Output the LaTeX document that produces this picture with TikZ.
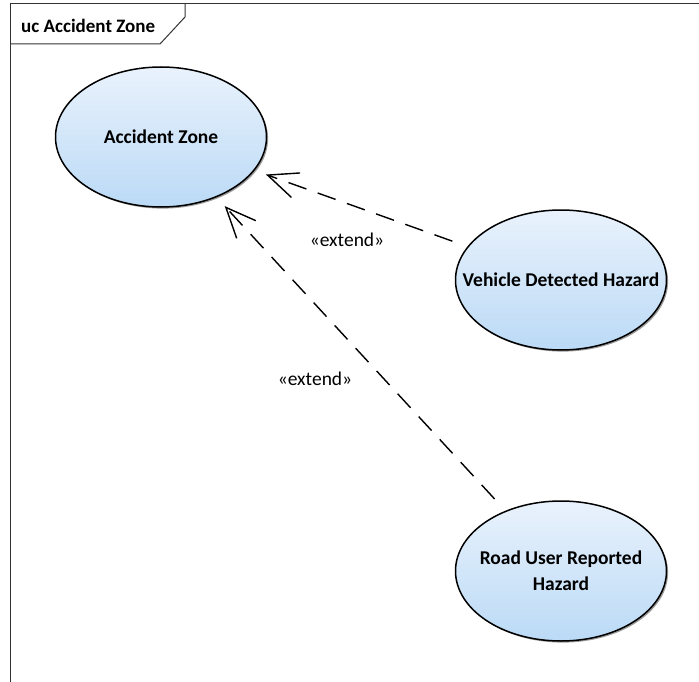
\documentclass[tikz,border=0pt]{standalone}
\usepackage{fontspec}
\setmainfont{Carlito}
\usetikzlibrary{arrows.meta,shadows,shapes.geometric}

\definecolor{ucTop}{HTML}{E9F2FC}
\definecolor{ucBottom}{HTML}{BBDAF6}
\definecolor{ucShadow}{HTML}{9A9A9A}

\tikzset{
  usecase/.style={ellipse, draw=black, line width=1.5pt,
    top color=ucTop, bottom color=ucBottom,
    minimum width=211pt, minimum height=140pt,
    inner xsep=-32pt, inner ysep=0pt,
    align=center, font=\fontsize{19.5}{26}\selectfont\bfseries,
    drop shadow={shadow xshift=1.6pt, shadow yshift=-1.6pt,
      fill=ucShadow, opacity=1}},
  extendline/.style={line width=1.4pt, dash pattern=on 19pt off 12pt,
    -{Straight Barb[length=30pt, width=26pt, line width=1.4pt]},
    shorten >=12pt, shorten <=16pt},
  stereo/.style={font=\fontsize{19.5}{22}\selectfont, inner sep=0pt},
  framepen/.style={line width=1pt, draw=black!80},
}

\begin{document}
\begin{tikzpicture}[x=1pt, y=-1pt]
  \useasboundingbox (0,0) rectangle (699,682);

  % diagram frame with its name tab
  \draw[framepen] (10,682) -- (10,4) -- (699,4);
  \draw[framepen] (10,44) -- (160,44) -- (185,17) -- (185,4);
  \node[font=\fontsize{19}{22}\selectfont\bfseries, anchor=west, inner sep=0pt]
    (title) at (21,26) {uc Accident Zone};

  % use cases
  \node[usecase] (accident) at (161,137) {Accident Zone};
  \node[usecase] (vehicle) at (561,280) {Vehicle Detected Hazard};
  \node[usecase] (road) at (561,571) {Road User Reported\\Hazard};

  % extend relations
  \draw[extendline] (vehicle) -- (accident);
  \draw[extendline] (road) -- (accident);

  \node[stereo] (ext1) at (347,240) {«extend»};
  \node[stereo] (ext2) at (315,379) {«extend»};
\end{tikzpicture}
\end{document}
